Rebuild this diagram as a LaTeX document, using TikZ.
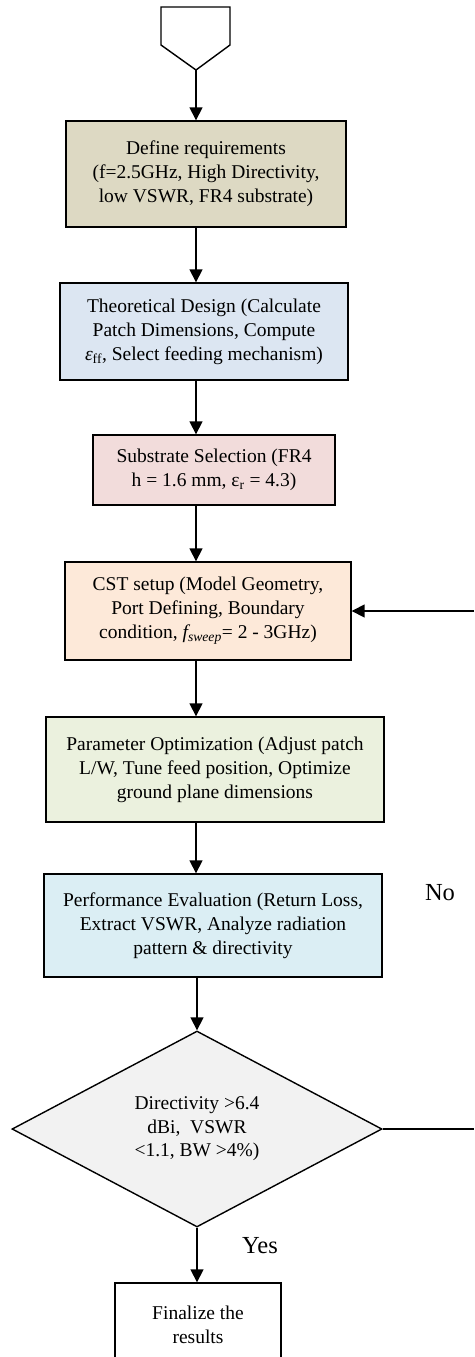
\documentclass[tikz,border=0pt]{standalone}
\usepackage{fontspec}
\setmainfont{Liberation Serif}
\usetikzlibrary{arrows.meta,shapes.geometric,shadows}
\definecolor{tanfill}{HTML}{DDD9C3}
\definecolor{bluefill}{HTML}{DCE6F2}
\definecolor{pinkfill}{HTML}{F2DCDB}
\definecolor{peachfill}{HTML}{FDE9D9}
\definecolor{greenfill}{HTML}{EBF1DE}
\definecolor{aquafill}{HTML}{DBEEF4}
\definecolor{grayfill}{HTML}{F2F2F2}
\begin{document}
\begin{tikzpicture}[x=1pt, y=-1pt, >={Triangle[width=13pt,length=13pt]},
    block/.style={draw, line width=1.4pt, align=center, inner sep=0pt,
      font=\fontsize{19.5}{24}\selectfont,
      drop shadow={shadow xshift=1.4pt, shadow yshift=-1.4pt, fill=black, opacity=1}},
    decision/.style={draw, diamond, aspect=1.9, line width=1.4pt, align=center, inner sep=0pt,
      font=\fontsize{19.5}{23.5}\selectfont},
    flow/.style={->, line width=1.6pt},
    tag/.style={font=\fontsize{24.5}{28}\selectfont}]
      \clip (0, 0) rectangle (474, 1357);
      \draw [line width=1.4pt] (161, 7) -- (230, 7) -- (230, 45) -- (196, 70) -- (161, 45) -- cycle;
      \coordinate (start) at (196, 70);
      \coordinate (loopend) at (474, 1129);
      \node [block, fill=tanfill, minimum width=280pt, minimum height=106pt] (req) at (206, 174)
        {Define requirements\\(f=2.5GHz, High Directivity,\\low VSWR, FR4 substrate)};
      \node [block, fill=bluefill, minimum width=288pt, minimum height=97pt] (design) at (204, 331.5)
        {Theoretical Design (Calculate\\Patch Dimensions, Compute\\\textit{ε}\textsubscript{ff}, Select feeding mechanism)};
      \node [block, fill=pinkfill, minimum width=242pt, minimum height=70pt] (substrate) at (214, 470)
        {Substrate Selection (FR4\\h = 1.6 mm, ε\textsubscript{r} = 4.3)};
      \node [block, fill=peachfill, minimum width=286pt, minimum height=98pt] (cst) at (208, 611)
        {CST setup (Model Geometry,\\Port Defining, Boundary\\condition, \textit{f\textsubscript{sweep}}= 2 - 3GHz)};
      \node [block, fill=greenfill, minimum width=338pt, minimum height=105pt] (optim) at (215, 769.5)
        {Parameter Optimization (Adjust patch\\L/W, Tune feed position, Optimize\\ground plane dimensions};
      \node [block, fill=aquafill, minimum width=338pt, minimum height=103pt] (eval) at (213, 925.5)
        {Performance Evaluation (Return Loss,\\Extract VSWR, Analyze radiation\\pattern \& directivity};
      \node [decision, fill=grayfill, minimum width=370pt, minimum height=196pt] (check) at (197, 1129)
        {Directivity >6.4\\dBi,\ \ VSWR\\<1.1, BW >4\%)};
      \node [block, fill=white, minimum width=166pt, minimum height=84pt] (final) at (198, 1325)
        {Finalize the\\results};
      \node [tag] (no) at (440, 893) {No};
      \node [tag] (yes) at (260, 1246) {Yes};
      \draw [flow] (start) -- (start |- req.north);
      \draw [flow] (req.south -| start) -- (design.north -| start);
      \draw [flow] (design.south -| start) -- (substrate.north -| start);
      \draw [flow] (substrate.south -| start) -- (cst.north -| start);
      \draw [flow] (cst.south -| start) -- (optim.north -| start);
      \draw [flow] (optim.south -| start) -- (eval.north -| start);
      \draw [flow] (eval.south -| check.north) -- (check.north);
      \draw [flow] (check.south) -- (check.south |- final.north);
      \draw [line width=1.6pt] (check.east) -- (loopend);
      \draw [flow] (cst.east -| loopend) -- (cst.east);
\end{tikzpicture}
\end{document}
